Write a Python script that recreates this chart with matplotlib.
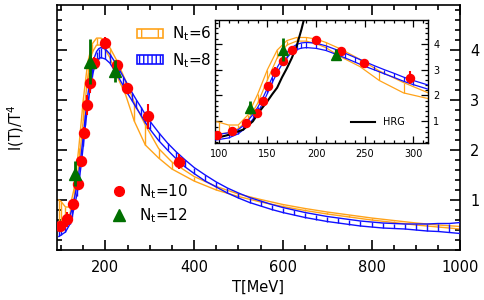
import matplotlib
matplotlib.use('Agg')
import matplotlib.pyplot as plt
from matplotlib.patches import Patch
from matplotlib.lines import Line2D
from matplotlib.ticker import MultipleLocator

plt.rcParams['font.family'] = ['DejaVu Sans']
plt.rcParams['mathtext.fontset'] = 'dejavusans'
plt.rcParams['hatch.linewidth'] = 1.0

# Nt=6 band (lower / upper edge)
nt6_T = [95, 100, 110, 120, 130, 140, 150, 160, 170, 180, 190, 200, 210, 225,
         245, 265, 290, 320, 350, 400, 450, 500, 550, 600, 650, 700, 750, 800,
         850, 900, 950, 1000]
nt6_lo = [0.52, 0.52, 0.56, 0.72, 1.05, 1.70, 2.60, 3.45, 3.95, 4.10, 4.10, 4.00,
          3.85, 3.50, 3.12, 2.58, 2.10, 1.84, 1.62, 1.38, 1.20, 1.07, 0.96, 0.87,
          0.79, 0.72, 0.66, 0.60, 0.55, 0.50, 0.46, 0.42]
nt6_hi = [1.00, 0.97, 0.86, 0.86, 1.25, 2.05, 3.00, 3.75, 4.12, 4.24, 4.24, 4.18,
          4.05, 3.80, 3.40, 2.95, 2.50, 2.03, 1.76, 1.47, 1.27, 1.12, 1.01, 0.91,
          0.83, 0.76, 0.70, 0.64, 0.59, 0.54, 0.50, 0.47]

# Nt=8 band (centre and half width)
nt8_T = [95, 100, 110, 120, 125, 130, 135, 140, 145, 150, 155, 160, 165, 170,
         175, 180, 185, 190, 200, 210, 220, 230, 240, 250, 260, 270, 280, 290,
         300, 320, 340, 360, 380, 400, 425, 450, 475, 500, 525, 550, 575, 600,
         625, 650, 675, 700, 725, 750, 775, 800, 825, 850, 875, 900, 925, 950,
         975, 1000]
nt8_mid = [0.37, 0.40, 0.46, 0.60, 0.75, 0.95, 1.17, 1.44, 1.78, 2.18, 2.60, 2.98,
           3.30, 3.56, 3.75, 3.87, 3.93, 3.95, 3.92, 3.83, 3.69, 3.54, 3.38, 3.22,
           3.07, 2.92, 2.78, 2.63, 2.50, 2.27, 2.07, 1.89, 1.73, 1.59, 1.44, 1.31,
           1.19, 1.09, 1.00, 0.93, 0.86, 0.80, 0.75, 0.70, 0.66, 0.62, 0.59, 0.56,
           0.53, 0.51, 0.49, 0.48, 0.47, 0.46, 0.45, 0.45, 0.44, 0.44]
nt8_err = [0.10, 0.10, 0.10, 0.08, 0.08, 0.08, 0.09, 0.10, 0.10, 0.10, 0.10, 0.10,
           0.10, 0.10, 0.10, 0.10, 0.10, 0.10, 0.10, 0.09, 0.09, 0.09, 0.09, 0.09,
           0.08, 0.08, 0.08, 0.08, 0.08, 0.08, 0.07, 0.07, 0.07, 0.06, 0.06, 0.05,
           0.05, 0.05, 0.05, 0.05, 0.05, 0.05, 0.05, 0.05, 0.05, 0.05, 0.05, 0.05,
           0.05, 0.05, 0.05, 0.05, 0.05, 0.06, 0.07, 0.08, 0.09, 0.11]

# Nt=10 points
nt10_T = [98, 114, 128, 139, 145, 151, 158, 166, 175, 200, 226, 249, 297, 367]
nt10_y = [0.48, 0.62, 0.92, 1.32, 1.78, 2.35, 2.90, 3.35, 3.74, 4.15, 3.70, 3.25, 2.68, 1.77]
nt10_err = [0.06, 0.15, 0.08, 0.10, 0.10, 0.12, 0.20, 0.20, 0.12, 0.12, 0.10, 0.08, 0.25, 0.15]

# Nt=12 points
nt12_T = [132, 166, 221]
nt12_y = [1.53, 3.77, 3.58]
nt12_err = [0.25, 0.45, 0.22]

# hadron resonance gas
hrg_T = [95, 100, 110, 125, 135, 142, 150, 155, 160, 165, 170, 175, 180, 185, 190]
hrg_y = [0.33, 0.38, 0.48, 0.68, 1.00, 1.39, 1.78, 2.05, 2.30, 2.70, 3.05, 3.44, 3.90, 4.55, 5.30]

orange = '#FFA31A'
blue = '#1010FF'
red = '#FF0000'
green = '#007000'


def draw_band(ax, T, lo, hi, color, lw, z):
    ax.plot(T, lo, color=color, lw=lw, zorder=z)
    ax.plot(T, hi, color=color, lw=lw, zorder=z)
    for t, a, b in zip(T, lo, hi):
        ax.plot([t, t], [a, b], color=color, lw=lw, zorder=z,
                solid_capstyle='butt')


def draw_all(ax, ms, lw):
    nt8_lo = [m - e for m, e in zip(nt8_mid, nt8_err)]
    nt8_hi = [m + e for m, e in zip(nt8_mid, nt8_err)]
    draw_band(ax, nt6_T, nt6_lo, nt6_hi, orange, lw, 2)
    draw_band(ax, nt8_T, nt8_lo, nt8_hi, blue, lw, 3)
    ax.errorbar(nt10_T, nt10_y, yerr=nt10_err, fmt='o', color=red, ms=ms,
                elinewidth=1.5, capsize=0, zorder=5)
    ax.errorbar(nt12_T, nt12_y, yerr=nt12_err, fmt='^', color=green, ms=ms * 1.15,
                elinewidth=2, capsize=0, zorder=6)


fig = plt.figure(figsize=(4.84, 3.0), dpi=100)
ax = fig.add_axes([0.117, 0.1667, 0.834, 0.8163])
draw_all(ax, 7.2, 1.0)

ax.set_xlim(90, 1000)
ax.set_ylim(0, 4.9)
ax.xaxis.set_major_locator(MultipleLocator(200))
ax.xaxis.set_minor_locator(MultipleLocator(50))
ax.set_yticks([1, 2, 3, 4])
ax.yaxis.set_minor_locator(MultipleLocator(0.2))
ax.tick_params(which='both', direction='in', top=True, right=True, left=True,
               labelleft=False, labelright=True, labelsize=10.5, width=1.2)
ax.tick_params(which='major', length=7, pad=7)
ax.tick_params(which='minor', length=3.5)
for s in ax.spines.values():
    s.set_linewidth(1.2)
ax.set_xlabel('T[MeV]', fontsize=10.5, labelpad=4)
ax.set_ylabel('I(T)/T$^4$', fontsize=10.5, labelpad=22)

band_handles = [Patch(facecolor='none', edgecolor=orange, hatch='|', lw=1.2),
                Patch(facecolor='none', edgecolor=blue, hatch='||||', lw=1.2)]
leg1 = ax.legend(band_handles, ['N$_{\\rm t}$=6', 'N$_{\\rm t}$=8'],
                 loc='upper left', bbox_to_anchor=(0.198, 0.92), frameon=False,
                 fontsize=11, handlelength=1.7, handleheight=0.55,
                 labelspacing=0.5, borderpad=0, borderaxespad=0, handletextpad=0.6)
ax.add_artist(leg1)
pt_handles = [Line2D([], [], ls='none', marker='o', color=red, ms=7),
              Line2D([], [], ls='none', marker='^', color=green, ms=8)]
ax.legend(pt_handles, ['N$_{\\rm t}$=10', 'N$_{\\rm t}$=12'],
          loc='upper left', bbox_to_anchor=(0.135, 0.278), frameon=False,
          fontsize=11, handlelength=1.0, labelspacing=0.35,
          borderpad=0, borderaxespad=0, handletextpad=0.8)

ins = fig.add_axes([0.444, 0.522, 0.440, 0.410])
hrg_line, = ins.plot(hrg_T, hrg_y, color='black', lw=1.5, zorder=4)
draw_all(ins, 5.8, 0.9)
ins.set_xlim(96, 315)
ins.set_ylim(0.15, 4.9)
ins.xaxis.set_major_locator(MultipleLocator(50))
ins.xaxis.set_minor_locator(MultipleLocator(10))
ins.set_yticks([1, 2, 3, 4])
ins.yaxis.set_minor_locator(MultipleLocator(0.2))
ins.tick_params(which='both', direction='in', top=True, right=True, left=True,
                labelleft=False, labelright=True, labelsize=7, width=0.9)
ins.tick_params(which='major', length=5, pad=4)
ins.tick_params(which='minor', length=2.5)
for s in ins.spines.values():
    s.set_linewidth(1.0)
ins.legend([hrg_line], ['HRG'], loc='lower right', bbox_to_anchor=(0.892, 0.13),
           frameon=False, fontsize=7, handlelength=2.5, handletextpad=0.8,
           borderpad=0, borderaxespad=0)

fig.savefig('out.png', dpi=100)
